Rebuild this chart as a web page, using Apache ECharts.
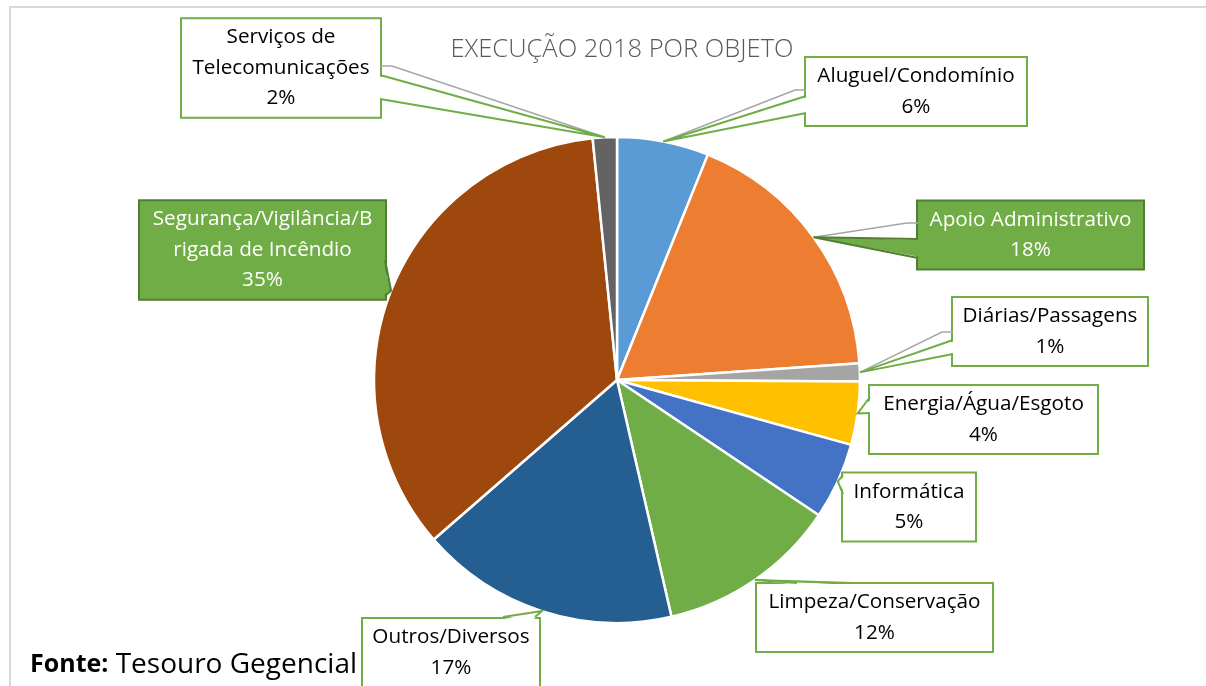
<!DOCTYPE html>
<html>
<head>
<meta charset="utf-8">
<script src="https://cdn.jsdelivr.net/npm/echarts@6/dist/echarts.min.js"></script>
<style>
  html, body { margin: 0; padding: 0; background: #ffffff; }
  #chart { width: 1206px; height: 686px; }
</style>
</head>
<body>
<div id="chart"></div>
<script>
// Expenditure 2018 by object (share of total, %)
const categories = [
  'Aluguel/Condomínio',
  'Apoio Administrativo',
  'Diárias/Passagens',
  'Energia/Água/Esgoto',
  'Informática',
  'Limpeza/Conservação',
  'Outros/Diversos',
  'Segurança/Vigilância/Brigada de Incêndio',
  'Serviços de Telecomunicações'
];
const shares = [6.1, 17.8, 1.2, 4.2, 5.1, 12.0, 17.2, 34.8, 1.6];
const sliceColors = ['#5B9BD5', '#ED7D31', '#A5A5A5', '#FFC000', '#4472C4', '#70AD47', '#255E91', '#9E480E', '#636363'];

// how long names wrap inside their callout
const wrappedNames = {
  'Segurança/Vigilância/Brigada de Incêndio': 'Segurança/Vigilância/B\nrigada de Incêndio',
  'Serviços de Telecomunicações': 'Serviços de\nTelecomunicações'
};
const highlighted = ['Apoio Administrativo', 'Segurança/Vigilância/Brigada de Incêndio'];

// callout placement: box [left, top, width, height], edge the pointer leaves from,
// pointer base offsets along that edge, optional grey leader offset
const callouts = [
  { box: [806, 57, 220, 67],  side: 'left',  base: [39, 56], lead: 33 },
  { box: [918, 200, 225, 68], side: 'left',  base: [39, 58], lead: 23 },
  { box: [953, 297, 194, 67], side: 'left',  base: [43, 57], lead: 35 },
  { box: [870, 385, 227, 67], side: 'left',  base: [12, 28] },
  { box: [843, 472, 132, 68], side: 'left',  base: [3, 22] },
  { box: [757, 583, 235, 67], side: 'top',   base: [40, 96] },
  { box: [363, 617, 176, 69], side: 'top',   base: [140, 172] },
  { box: [140, 200, 245, 98], side: 'right', base: [60, 96] },
  { box: [182, 18, 198, 98],  side: 'right', base: [57, 81], lead: 48 }
];

const GREEN = '#70AD47';
const DARK_GREEN = '#507E32';
const FONT = "'Open Sans', 'Noto Sans', sans-serif";

const seriesData = categories.map((name, i) => {
  const filled = highlighted.indexOf(name) >= 0;
  const c = callouts[i];
  return {
    name: name,
    value: shares[i],
    itemStyle: { color: sliceColors[i] },
    label: {
      width: c.box[2],
      backgroundColor: filled ? GREEN : '#ffffff',
      borderColor: filled ? DARK_GREEN : GREEN,
      color: filled ? '#ffffff' : '#000000'
    }
  };
});

const chart = echarts.init(document.getElementById('chart'), null, { renderer: 'canvas' });

const baseGraphics = [
  {
    id: 'frame', type: 'rect', silent: true, z: 0,
    shape: { x: 10, y: 7, width: 1400, height: 900 },
    style: { fill: null, stroke: '#D9D9D9', lineWidth: 2 }
  },
  {
    id: 'source', type: 'text', silent: true, z: 50,
    x: 30, y: 679,
    style: {
      text: '{b|Fonte:} Tesouro Gegencial',
      font: '28px ' + FONT,
      fill: '#000000',
      verticalAlign: 'bottom',
      rich: {
        b: { fontWeight: 'bold', fontSize: 25, fontFamily: FONT, fill: '#000000' }
      }
    }
  }
];

chart.setOption({
  backgroundColor: '#ffffff',
  animation: false,
  title: {
    text: 'EXECUÇÃO 2018 POR OBJETO',
    left: 617,
    top: 32,
    textAlign: 'center',
    textStyle: { fontFamily: FONT, fontSize: 25.5, fontWeight: 300, color: '#595959' }
  },
  graphic: { elements: baseGraphics },
  series: [{
    type: 'pie',
    center: [617, 380],
    radius: 243,
    startAngle: 90,
    clockwise: true,
    avoidLabelOverlap: false,
    itemStyle: { borderColor: '#ffffff', borderWidth: 2.5 },
    emphasis: { disabled: true },
    labelLine: { show: false },
    label: {
      show: true,
      position: 'outside',
      fontFamily: FONT,
      fontSize: 20.7,
      lineHeight: 30.5,
      align: 'center',
      padding: [3, 0, 3, 0],
      borderWidth: 2,
      formatter: p => (wrappedNames[p.name] || p.name) + '\n' + Math.round(p.percent) + '%'
    },
    labelLayout: p => {
      const b = callouts[p.dataIndex].box;
      return { x: b[0] + b[2] / 2, y: b[1] + b[3] / 2 + 1, align: 'center', verticalAlign: 'middle' };
    },
    data: seriesData
  }]
});

// pointers and leader lines, anchored at each slice's outer mid-angle
const pieData = chart.getModel().getSeriesByIndex(0).getData();
const extra = [];
callouts.forEach((c, i) => {
  const L = pieData.getItemLayout(i);
  const mid = (L.startAngle + L.endAngle) / 2;
  const tip = [L.cx + L.r * Math.cos(mid), L.cy + L.r * Math.sin(mid)];
  const [left, top, w, h] = c.box;
  const filled = highlighted.indexOf(categories[i]) >= 0;
  let p1, p2, q1, q2;
  if (c.side === 'left') {
    p1 = [left, top + c.base[0]]; p2 = [left, top + c.base[1]];
    q1 = [left + 2, top + c.base[0] + 1]; q2 = [left + 2, top + c.base[1] - 1];
  } else if (c.side === 'right') {
    p1 = [left + w, top + c.base[0]]; p2 = [left + w, top + c.base[1]];
    q1 = [left + w - 2, top + c.base[0] + 1]; q2 = [left + w - 2, top + c.base[1] - 1];
  } else {
    p1 = [left + c.base[0], top]; p2 = [left + c.base[1], top];
    q1 = [left + c.base[0] + 1, top + 2]; q2 = [left + c.base[1] - 1, top + 2];
  }
  if (c.lead != null) {
    const edgeX = c.side === 'right' ? left + w : left;
    const knee = c.side === 'right' ? edgeX + 12 : edgeX - 11;
    extra.push({
      type: 'polyline', silent: true, z: 5,
      shape: { points: [[edgeX, top + c.lead], [knee, top + c.lead], tip] },
      style: { stroke: '#A6A6A6', lineWidth: 1.5, fill: null }
    });
  }
  extra.push({
    type: 'polygon', silent: true, z: 60,
    shape: { points: [q1, tip, q2] },
    style: { fill: filled ? GREEN : '#ffffff', stroke: null }
  });
  extra.push({
    type: 'polyline', silent: true, z: 61,
    shape: { points: [p1, tip, p2] },
    style: { stroke: filled ? DARK_GREEN : GREEN, lineWidth: 2, fill: null }
  });
});

chart.setOption({ graphic: { elements: baseGraphics.concat(extra) } });
</script>
</body>
</html>
